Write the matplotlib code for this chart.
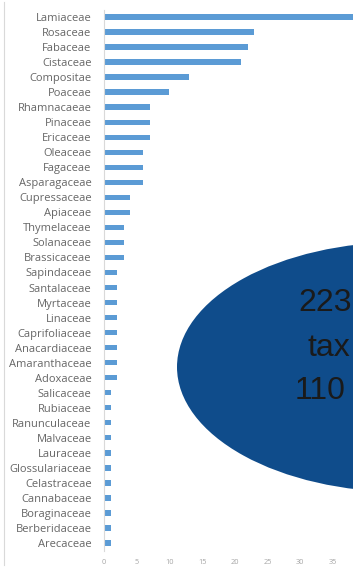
import matplotlib
matplotlib.use('Agg')
import matplotlib.pyplot as plt
from matplotlib.patches import Ellipse
from matplotlib.lines import Line2D

families = ['Lamiaceae', 'Rosaceae', 'Fabaceae', 'Cistaceae', 'Compositae', 'Poaceae',
            'Rhamnacaeae', 'Pinaceae', 'Ericaceae', 'Oleaceae', 'Fagaceae', 'Asparagaceae',
            'Cupressaceae', 'Apiaceae', 'Thymelaceae', 'Solanaceae', 'Brassicaceae',
            'Sapindaceae', 'Santalaceae', 'Myrtaceae', 'Linaceae', 'Caprifoliaceae',
            'Anacardiaceae', 'Amaranthaceae', 'Adoxaceae', 'Salicaceae', 'Rubiaceae',
            'Ranunculaceae', 'Malvaceae', 'Lauraceae', 'Glossulariaceae', 'Celastraceae',
            'Cannabaceae', 'Boraginaceae', 'Berberidaceae', 'Arecaceae']
counts = [50, 23, 22, 21, 13, 10,
          7, 7, 7, 6, 6, 6,
          4, 4, 3, 3, 3,
          2, 2, 2, 2, 2,
          2, 2, 2, 1, 1,
          1, 1, 1, 1, 1,
          1, 1, 1, 1]
xticks = [0, 5, 10, 15, 20, 25, 30, 35]
# only the left part of the bubble text is visible in the picture
bubble_lines = ['223', 'tax', '110']

W, H = 353, 569
fig = plt.figure(figsize=(W / 100, H / 100), dpi=100)
ax = fig.add_axes([104 / W, 1 - 550.5 / H, (W - 104) / W, 541 / H])

ypos = list(range(len(families)))
ax.barh(ypos, counts, height=0.36, color='#5b9bd5', zorder=2)
ax.set_ylim(len(families) - 0.5, -0.5)
ax.set_xlim(0, (W - 104) / 6.54)
ax.set_yticks(ypos)
ax.set_yticklabels(families, fontsize=8, color='#666666', family='Open Sans')
ax.set_xticks(xticks)
ax.set_xticklabels([str(t) for t in xticks], fontsize=5.3, color='#a6a6a6', family='Open Sans')
ax.tick_params(axis='y', length=0, pad=9)
ax.tick_params(axis='x', length=0, pad=6)
for s in ['top', 'right', 'bottom']:
    ax.spines[s].set_visible(False)
ax.spines['left'].set_color('#d9d9d9')
ax.spines['left'].set_linewidth(0.8)

# faint frame line at the left edge
fig.add_artist(Line2D([4 / W, 4 / W], [1 - 565 / H, 1 - 2 / H], transform=fig.transFigure,
                      color='#d9d9d9', lw=0.8))

# dark blue bubble with text
fig.add_artist(Ellipse((403 / W, 1 - 367 / H), 452 / W, 250 / H, transform=fig.transFigure,
                       facecolor='#0f4c8b', edgecolor='none', zorder=5))
line_x = [298, 307, 295]
line_y = [303, 348, 391]
for txt, lx, ly in zip(bubble_lines, line_x, line_y):
    fig.text(lx / W, 1 - ly / H, txt, fontsize=23, color='#1a1a1a', family='Liberation Sans',
             ha='left', va='center', zorder=6)

fig.savefig('out.png', dpi=100)
